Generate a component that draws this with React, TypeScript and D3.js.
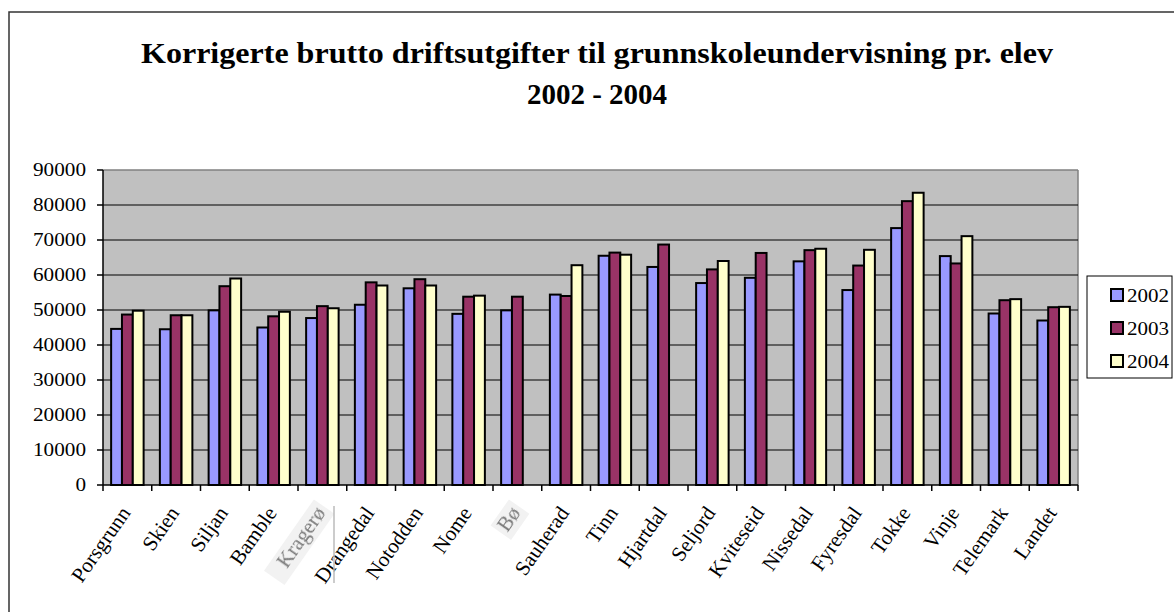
import React from "react";
import * as d3 from "d3";

const categories = ["Porsgrunn","Skien","Siljan","Bamble","Kragerø","Drangedal","Notodden","Nome","Bø","Sauherad","Tinn","Hjartdal","Seljord","Kviteseid","Nissedal","Fyresdal","Tokke","Vinje","Telemark","Landet"];
const series = ["2002", "2003", "2004"];
const v2002 = [44600, 44500, 49900, 45000, 47700, 51500, 56200, 48900, 49900, 54400, 65500, 62300, 57700, 59200, 63900, 55700, 73400, 65400, 49000, 47000];
const v2003 = [48700, 48500, 56800, 48200, 51100, 57900, 58800, 53800, 53800, 54000, 66400, 68700, 61600, 66300, 67100, 62700, 81100, 63300, 52800, 50800];
const v2004: (number | null)[] = [49800, 48500, 59000, 49500, 50500, 57000, 57000, 54100, null, 62800, 65800, null, 64000, null, 67500, 67200, 83500, 71100, 53100, 50900];
const yTicks = [0, 10000, 20000, 30000, 40000, 50000, 60000, 70000, 80000, 90000];
const titleLines = ["Korrigerte brutto driftsutgifter til grunnskoleundervisning pr. elev", "2002 - 2004"];
const fadedLabels = ["Kragerø", "Bø"];

const colors = ["#9999FF", "#993366", "#FFFFCC"];
const FONT = "Liberation Serif";
const tf = { fontFamily: FONT };

export default function App() {
  const W = 1174, H = 612;
  const left = 103, right = 1078, top = 170, bottom = 485;
  const x = d3.scaleBand<string>().domain(categories).range([left, right]).padding(0);
  const y = d3.scaleLinear().domain([0, 90000]).range([bottom, top]);
  const bw = x.bandwidth() / 4.5;
  const off = bw * 0.75;
  const data = [v2002, v2003, v2004];

  return (
    <svg width={W} height={H} style={{ position: "absolute", left: 0, top: 0 }}>
      <rect x={0} y={0} width={W} height={H} fill="#fff" />
      <rect x={9} y={12} width={W + 10} height={H + 10} fill="none" stroke="#333" strokeWidth={1.5} />
      {/* Title */}
      <text x={597} y={63} textAnchor="middle" fontSize={29} fontWeight="bold" style={tf} textLength={912} lengthAdjust="spacingAndGlyphs">{titleLines[0]}</text>
      <text x={597} y={104} textAnchor="middle" fontSize={29} fontWeight="bold" style={tf}>{titleLines[1]}</text>

      {/* Plot area */}
      <rect x={left} y={top} width={right - left} height={bottom - top} fill="#C0C0C0" />
      <line x1={left} x2={right} y1={top} y2={top} stroke="#808080" strokeWidth={1.5} />
      <line x1={right} x2={right} y1={top} y2={bottom} stroke="#808080" strokeWidth={1.5} />
      {yTicks.filter(t => t > 0 && t < 90000).map(t => (
        <line key={t} x1={left} x2={right} y1={y(t)} y2={y(t)} stroke="#000" strokeWidth={1} />
      ))}

      {/* Bars */}
      {categories.map((c, i) => (
        <g key={c}>
          {data.map((s, j) => {
            const v = s[i];
            if (v == null) return null;
            return (
              <rect key={j} x={(x(c) as number) + off + j * bw} y={y(v)} width={bw} height={bottom - y(v)}
                fill={colors[j]} stroke="#000" strokeWidth={2} />
            );
          })}
        </g>
      ))}

      {/* Axes */}
      <line x1={left} x2={left} y1={top} y2={bottom} stroke="#000" strokeWidth={1.5} />
      <line x1={left} x2={right} y1={bottom} y2={bottom} stroke="#000" strokeWidth={1.5} />
      {yTicks.map(t => {
        const s = String(t);
        return (
          <g key={t}>
            <line x1={left - 6} x2={left} y1={y(t)} y2={y(t)} stroke="#000" strokeWidth={1.5} />
            <text x={86} y={y(t)} dy="0.35em" textAnchor="end" fontSize={18} style={tf}
              textLength={s.length * 10.6} lengthAdjust="spacingAndGlyphs">{s}</text>
          </g>
        );
      })}
      {categories.concat(["__end"]).map((c, i) => {
        const xx = left + i * x.bandwidth();
        return <line key={c} x1={xx} x2={xx} y1={bottom} y2={bottom + 6} stroke="#000" strokeWidth={1.5} />;
      })}
      {categories.map(c => {
        const cx = (x(c) as number) + x.bandwidth() / 2;
        const faded = fadedLabels.includes(c);
        return (
          <g key={c} transform={`translate(${cx + 4},${513}) rotate(-55)`}>
            {faded && <rect x={-(c.length * 11 + 6)} y={-18} width={c.length * 11 + 10} height={25} fill="#f2f2f2" />}
            <text x={0} y={0} textAnchor="end" fontSize={21} fill={faded ? "#7a7a7a" : "#000"}
              style={faded ? { fontFamily: FONT, filter: "blur(0.7px)" } : tf}>{c}</text>
          </g>
        );
      })}
      <line x1={334} x2={334} y1={506} y2={583} stroke="#bbb" strokeWidth={1.5} />

      {/* Legend */}
      <rect x={1087} y={276} width={85} height={102} fill="#fff" stroke="#000" strokeWidth={1} />
      {series.map((s, j) => (
        <g key={s} transform={`translate(1111,${295 + j * 33})`}>
          <rect x={0} y={-6} width={12} height={12} fill={colors[j]} stroke="#000" strokeWidth={2} />
          <text x={16} y={0} dy="0.35em" fontSize={19} style={tf} textLength={42} lengthAdjust="spacingAndGlyphs">{s}</text>
        </g>
      ))}
    </svg>
  );
}
